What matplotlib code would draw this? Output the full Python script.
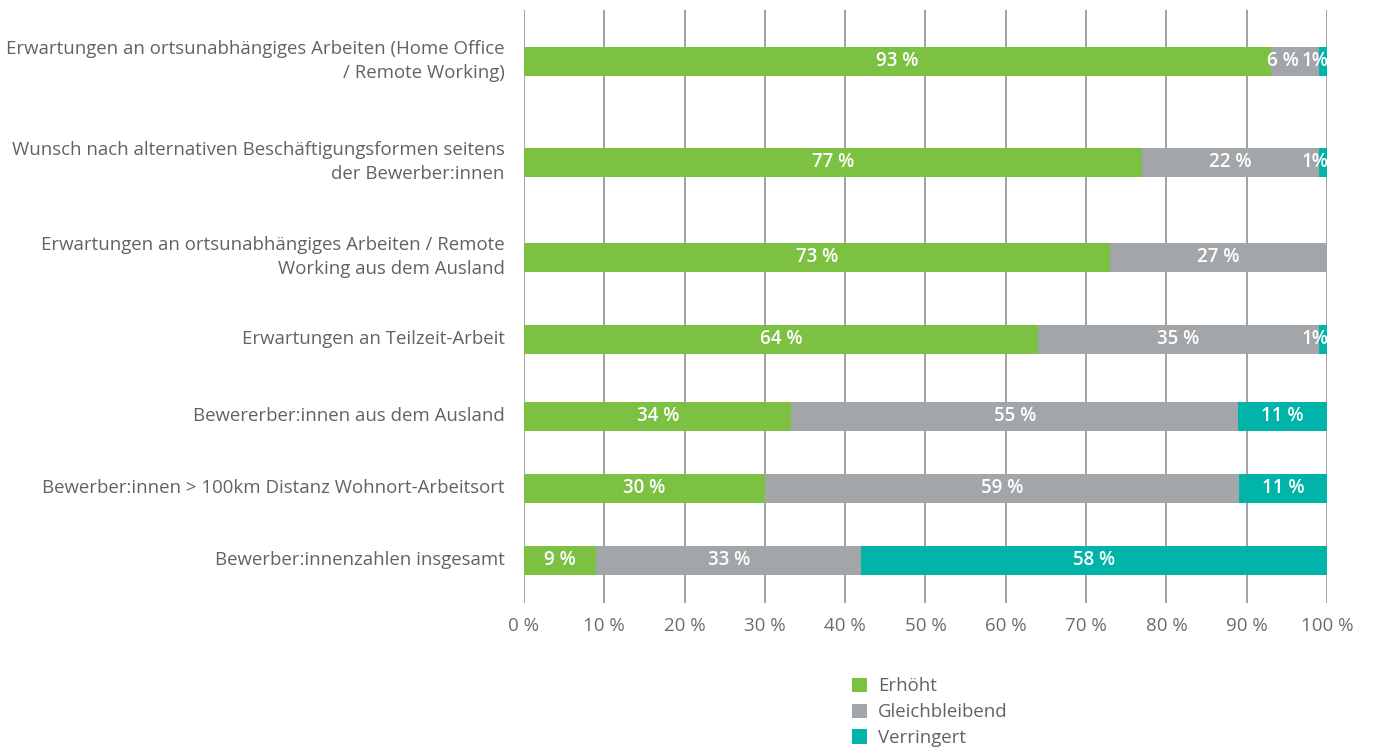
import matplotlib
matplotlib.use("Agg")
import matplotlib.pyplot as plt
from matplotlib.patches import Patch

categories = [
    "Erwartungen an ortsunabhängiges Arbeiten (Home Office\n/ Remote Working)",
    "Wunsch nach alternativen Beschäftigungsformen seitens\nder Bewerber:innen",
    "Erwartungen an ortsunabhängiges Arbeiten / Remote\nWorking aus dem Ausland",
    "Erwartungen an Teilzeit-Arbeit",
    "Bewererber:innen aus dem Ausland",
    "Bewerber:innen > 100km Distanz Wohnort-Arbeitsort",
    "Bewerber:innenzahlen insgesamt",
]
erhoeht = [93, 77, 73, 64, 33.3, 30, 9]
gleich = [6, 22, 27, 35, 55.6, 59, 33]
verringert = [1, 1, 0, 1, 11.1, 11, 58]
erhoeht_lbl = ["93 %", "77 %", "73 %", "64 %", "34 %", "30 %", "9 %"]
gleich_lbl = ["6 %", "22 %", "27 %", "35 %", "55 %", "59 %", "33 %"]
verringert_lbl = ["1%", "1%", "", "1%", "11 %", "11 %", "58 %"]
series_names = ["Erhöht", "Gleichbleibend", "Verringert"]
xticks = [0, 10, 20, 30, 40, 50, 60, 70, 80, 90, 100]
xtick_labels = ["0 %", "10 %", "20 %", "30 %", "40 %", "50 %", "60 %", "70 %", "80 %", "90 %", "100 %"]

# layout (pixel-like vertical positions of bar centres)
ypos = [61, 162, 257, 339, 416, 488, 560]
bar_h = 29
colors = ["#7dc142", "#a3a6a8", "#00b4aa"]
txt_col = "#5f6369"

plt.rcParams['font.family'] = ['Open Sans', 'DejaVu Sans']
fig = plt.figure(figsize=(13.73, 7.49), dpi=100)
ax = fig.add_axes([524/1373, 1-603/749, (1327-524)/1373, (603-10)/749])
ax.set_xlim(0, 100)
ax.set_ylim(603, 10)

for x in xticks:
    ax.axvline(x, color="#8f9193", lw=1.2, zorder=0)

all_vals = [erhoeht, gleich, verringert]
all_lbls = [erhoeht_lbl, gleich_lbl, verringert_lbl]
lefts = [0]*len(categories)
for si, (vals, lbls, c) in enumerate(zip(all_vals, all_lbls, colors)):
    ax.barh(ypos, vals, left=lefts, height=bar_h, color=c, zorder=2, linewidth=0)
    for i, (y, l, v, lb) in enumerate(zip(ypos, lefts, vals, lbls)):
        if not lb:
            continue
        kw = dict(va="center", color="white", fontsize=13.5, fontweight="semibold", zorder=3)
        if v < 3:
            ax.text(100.15, y, lb, ha="right", **kw)
        elif v < 10 and si + 1 < len(all_vals) and 0 < all_vals[si + 1][i] < 3:
            ax.text(l - 0.45, y, lb, ha="left", **kw)
        else:
            ax.text(l + v/2, y, lb, ha="center", **kw)
    lefts = [a + b for a, b in zip(lefts, vals)]

for y, cat in zip(ypos, categories):
    ax.text(-2.4, y, cat, ha="right", va="center", color=txt_col, fontsize=13.4,
            linespacing=1.45)

for s in ax.spines.values():
    s.set_visible(False)
ax.set_yticks([])
ax.set_xticks(xticks)
ax.set_xticklabels(xtick_labels, color="#6a6d70", fontsize=13.5)
ax.tick_params(axis="x", length=0, pad=10)

handles = [Patch(facecolor=c, edgecolor="none") for c in colors]
leg = fig.legend(handles, series_names, loc="upper left", bbox_to_anchor=(843/1373, 1-668/749),
                 frameon=False, fontsize=13.4, handlelength=0.8, handleheight=0.8,
                 handletextpad=0.6, labelspacing=0.42, borderpad=0)
for t in leg.get_texts():
    t.set_color(txt_col)

fig.savefig("out.png", dpi=100)
